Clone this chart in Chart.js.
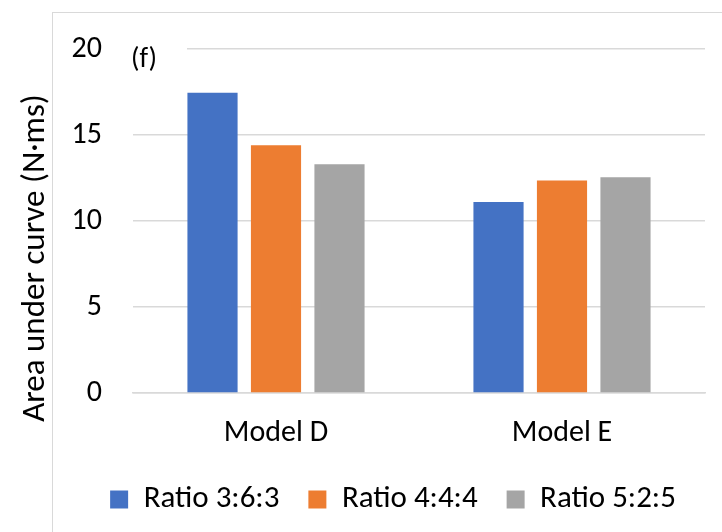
<!DOCTYPE html>
<html>
<head>
<meta charset="utf-8">
<script src="https://cdn.jsdelivr.net/npm/chart.js@4"></script>
<style>
  html, body { margin: 0; padding: 0; background: #fff; overflow: hidden; }
  #wrap { position: relative; width: 722px; height: 532px; overflow: hidden; }
  #frame { position: absolute; left: 52px; top: 12px; width: 720px; height: 560px; border: 1px solid #d9d9d9; }
  canvas { position: absolute; left: 0; top: 0; }
</style>
</head>
<body>
<div id="wrap"><div id="frame"></div><canvas id="aucChart" width="722" height="525"></canvas></div>
<script>
const models = ['Model D', 'Model E'];
const ratio363 = [17.45, 11.1];
const ratio444 = [14.4, 12.35];
const ratio525 = [13.3, 12.55];
const yTicks = [0, 5, 10, 15, 20];
const yTitle = 'Area under curve (N·ms)';
const panelTag = '(f)';

const fontFam = 'Calibri, Carlito, Lato, sans-serif';

// y title, panel tag and a centred legend drawn by hand
const extras = {
  id: 'extras',
  afterLayout(chart) {
    const lg = chart.legend;
    lg.left = 58;
    lg.right = 728;
    lg.width = 670;
  },
  afterDraw(chart) {
    const c = chart.ctx;
    const top = chart.chartArea.top;
    c.save();
    // gridline gap behind the tag
    c.fillStyle = '#fff';
    c.fillRect(chart.chartArea.left - 1, top - 3, 55, 6);
    c.fillStyle = '#000';
    c.font = '28px ' + fontFam;
    c.textBaseline = 'middle';
    c.fillText(panelTag, 131, top + 11);
    // rotated axis title
    c.translate(36, 258);
    c.rotate(-Math.PI / 2);
    c.textAlign = 'center';
    c.font = '33px ' + fontFam;
    c.fillText(yTitle, 0, 0);
    c.restore();
  }
};

new Chart(document.getElementById('aucChart'), {
  type: 'bar',
  data: {
    labels: models,
    datasets: [
      { label: 'Ratio 3:6:3', data: ratio363, backgroundColor: '#4472C4' },
      { label: 'Ratio 4:4:4', data: ratio444, backgroundColor: '#ED7D31' },
      { label: 'Ratio 5:2:5', data: ratio525, backgroundColor: '#A5A5A5' }
    ]
  },
  options: {
    responsive: false,
    animation: false,
    categoryPercentage: 0.666,
    barPercentage: 0.79,
    layout: { padding: { top: 44, right: 17, bottom: 0, left: 0 } },
    scales: {
      x: {
        afterFit(scale) { scale.height = 62; },
        grid: { display: false, drawTicks: false },
        border: { color: '#d9d9d9', width: 1.5 },
        ticks: { color: '#000', padding: 22, font: { family: fontFam, size: 30 } }
      },
      y: {
        min: 0,
        max: 20,
        afterBuildTicks(scale) {
          scale.ticks = yTicks.map(v => ({ value: v }));
        },
        afterFit(scale) { scale.width = 133; },
        grid: { color: '#d9d9d9', lineWidth: 1.5, drawTicks: false },
        border: { display: false },
        ticks: { color: '#000', padding: 31, font: { family: fontFam, size: 30 } }
      }
    },
    plugins: {
      legend: {
        position: 'bottom',
        labels: {
          color: '#000',
          boxWidth: 18,
          boxHeight: 18,
          padding: 29,
          font: { family: fontFam, size: 31 }
        }
      },
      tooltip: { enabled: false }
    }
  },
  plugins: [extras]
});
</script>
</body>
</html>
